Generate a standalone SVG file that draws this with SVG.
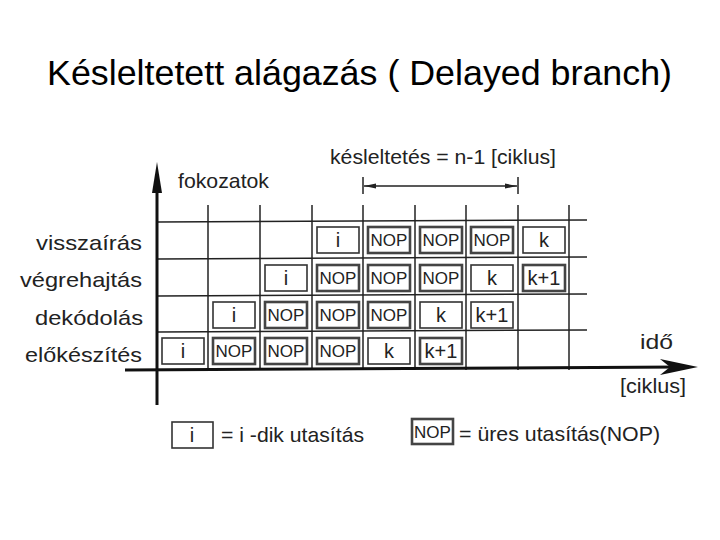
<svg xmlns="http://www.w3.org/2000/svg" width="720" height="540" viewBox="0 0 720 540">
<style>
text{font-family:"Liberation Sans",Arial,sans-serif;fill:#222}
.t{font-size:35px;fill:#000}
.l{font-size:21px}
.c{font-size:20px;text-anchor:middle}
.n{font-size:17px;text-anchor:middle}
.grid{stroke:#222;stroke-width:1.5;fill:none}
.bi{fill:#fff;stroke:#333;stroke-width:1.6}
.bn{fill:#fff;stroke:#444;stroke-width:2.6}
.ax{stroke:#111;stroke-width:3;fill:none}
</style>
<defs>
<marker id="dimA" viewBox="0 0 12 8" refX="12" refY="4" markerWidth="12" markerHeight="8" markerUnits="userSpaceOnUse" orient="auto-start-reverse">
<path d="M0,1.5 L12,4 L0,6.5 Z" fill="#222"/>
</marker>
</defs>
<rect width="720" height="540" fill="#fff"/>
<text class="t" x="47" y="85" textLength="625" lengthAdjust="spacingAndGlyphs">Késleltetett alágazás ( Delayed branch)</text>

<g id="connectors">
<g id="grid" class="grid">
<line x1="208" y1="205" x2="208" y2="370"/>
<line x1="260" y1="205" x2="260" y2="370"/>
<line x1="312" y1="205" x2="312" y2="370"/>
<line x1="363" y1="205" x2="363" y2="370"/>
<line x1="415" y1="205" x2="415" y2="370"/>
<line x1="466" y1="205" x2="466" y2="370"/>
<line x1="518" y1="205" x2="518" y2="370"/>
<line x1="569" y1="205" x2="569" y2="370"/>
<line x1="157" y1="222" x2="587" y2="220"/>
<line x1="157" y1="259" x2="587" y2="257"/>
<line x1="157" y1="296" x2="587" y2="294"/>
<line x1="157" y1="332" x2="587" y2="330"/>
</g>
<g id="axes">
<line class="ax" x1="157" y1="405" x2="157" y2="185"/>
<path d="M157,162 L162,193 L152,193 Z" fill="#111"/>
<line class="ax" x1="125" y1="370" x2="680" y2="367"/>
<path d="M698,367 L660,359 L670,367 L660,375 Z" fill="#111"/>
</g>
<g id="delay">
<line x1="363" y1="177" x2="363" y2="194" stroke="#222" stroke-width="1.5"/>
<line x1="518" y1="177" x2="518" y2="194" stroke="#222" stroke-width="1.5"/>
<line x1="364" y1="186" x2="517" y2="186" stroke="#222" stroke-width="1.3" marker-start="url(#dimA)" marker-end="url(#dimA)"/>
</g>
</g>

<text class="l" x="330" y="164" textLength="226" lengthAdjust="spacingAndGlyphs">késleltetés = n-1 [ciklus]</text>
<text class="l" x="178" y="188" textLength="91" lengthAdjust="spacingAndGlyphs">fokozatok</text>
<text class="l" x="36" y="250" textLength="106" lengthAdjust="spacingAndGlyphs">visszaírás</text>
<text class="l" x="20" y="287" textLength="122" lengthAdjust="spacingAndGlyphs">végrehajtás</text>
<text class="l" x="35" y="325" textLength="108" lengthAdjust="spacingAndGlyphs">dekódolás</text>
<text class="l" x="25" y="362" textLength="117" lengthAdjust="spacingAndGlyphs">előkészítés</text>
<text class="l" x="640" y="349" textLength="33" lengthAdjust="spacingAndGlyphs">idő</text>
<text class="l" x="620" y="393" textLength="66" lengthAdjust="spacingAndGlyphs">[ciklus]</text>

<!-- előkészítés row -->
<g id="e0"><rect class="bi" x="162" y="338" width="42" height="26"/><text class="c" x="183" y="358">i</text></g>
<g id="e1"><rect class="bn" x="213" y="338" width="42" height="26"/><text class="n" x="234" y="357">NOP</text></g>
<g id="e2"><rect class="bn" x="265" y="338" width="42" height="26"/><text class="n" x="286" y="357">NOP</text></g>
<g id="e3"><rect class="bn" x="317" y="338" width="42" height="26"/><text class="n" x="338" y="357">NOP</text></g>
<g id="e4"><rect class="bi" x="368" y="338" width="42" height="26"/><text class="c" x="389" y="358">k</text></g>
<g id="e5"><rect class="bn" x="420" y="338" width="42" height="26"/><text class="c" x="441" y="358">k+1</text></g>

<!-- dekódolás row -->
<g id="d1"><rect class="bi" x="213" y="302" width="42" height="26"/><text class="c" x="234" y="322">i</text></g>
<g id="d2"><rect class="bn" x="265" y="302" width="42" height="26"/><text class="n" x="286" y="321">NOP</text></g>
<g id="d3"><rect class="bn" x="317" y="302" width="42" height="26"/><text class="n" x="338" y="321">NOP</text></g>
<g id="d4"><rect class="bn" x="368" y="302" width="42" height="26"/><text class="n" x="389" y="321">NOP</text></g>
<g id="d5"><rect class="bi" x="420" y="302" width="42" height="26"/><text class="c" x="441" y="322">k</text></g>
<g id="d6"><rect class="bi" x="471" y="302" width="42" height="26"/><text class="c" x="492" y="322">k+1</text></g>

<!-- végrehajtás row -->
<g id="v2"><rect class="bi" x="265" y="265" width="42" height="26"/><text class="c" x="286" y="285">i</text></g>
<g id="v3"><rect class="bn" x="317" y="265" width="42" height="26"/><text class="n" x="338" y="284">NOP</text></g>
<g id="v4"><rect class="bn" x="368" y="265" width="42" height="26"/><text class="n" x="389" y="284">NOP</text></g>
<g id="v5"><rect class="bn" x="420" y="265" width="42" height="26"/><text class="n" x="441" y="284">NOP</text></g>
<g id="v6"><rect class="bi" x="471" y="265" width="42" height="26"/><text class="c" x="492" y="285">k</text></g>
<g id="v7"><rect class="bn" x="523" y="265" width="42" height="26"/><text class="c" x="544" y="285">k+1</text></g>

<!-- visszaírás row -->
<g id="w3"><rect class="bi" x="317" y="227" width="42" height="26"/><text class="c" x="338" y="247">i</text></g>
<g id="w4"><rect class="bn" x="368" y="227" width="42" height="26"/><text class="n" x="389" y="246">NOP</text></g>
<g id="w5"><rect class="bn" x="420" y="227" width="42" height="26"/><text class="n" x="441" y="246">NOP</text></g>
<g id="w6"><rect class="bn" x="471" y="227" width="42" height="26"/><text class="n" x="492" y="246">NOP</text></g>
<g id="w7"><rect class="bi" x="523" y="227" width="42" height="26"/><text class="c" x="544" y="247">k</text></g>

<!-- legend -->
<g id="legend-i"><rect class="bi" x="172" y="422" width="41" height="26"/><text class="c" x="192" y="442">i</text><text class="l" x="221" y="442" textLength="143" lengthAdjust="spacingAndGlyphs">= i -dik utasítás</text></g>
<g id="legend-nop"><rect class="bn" x="412" y="419" width="41" height="25"/><text class="n" x="432.5" y="438">NOP</text><text class="l" x="459" y="441" textLength="201" lengthAdjust="spacingAndGlyphs">= üres utasítás(NOP)</text></g>
</svg>
